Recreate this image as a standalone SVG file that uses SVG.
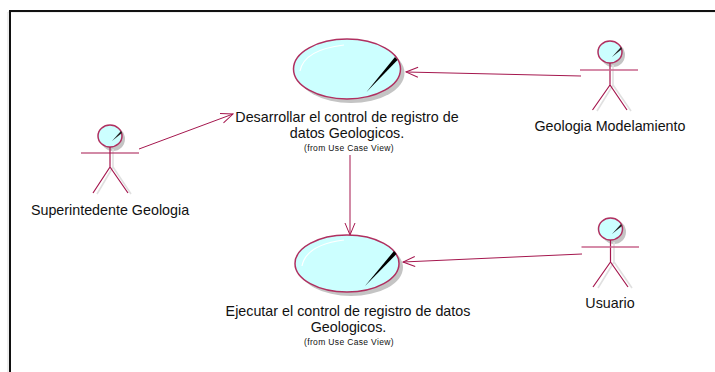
<svg xmlns="http://www.w3.org/2000/svg" width="715" height="372" viewBox="0 0 715 372">
<style>
text{font-family:"Liberation Sans",Arial,sans-serif;fill:#111;text-anchor:middle}
.l{font-size:14.3px}
.s{font-size:8.5px;letter-spacing:.35px}
.c{fill:none;stroke:#a5174e;stroke-width:1}
.uc{fill:#ccffff;stroke:#b03060;stroke-width:1.5}
.a{fill:none;stroke:#a5174e;stroke-width:1.2}
.ar{fill:none;stroke:#c9668c;stroke-width:1.4}
.sh{fill:#c4c4c4;stroke:none}
.shl{fill:none;stroke:#e0e0e0;stroke-width:1.6}
.hl{fill:none;stroke:#fff;stroke-width:1.2}
.head{fill:#ccffff;stroke:#b03060;stroke-width:1.5}
</style>
<defs>
<marker id="arr" markerUnits="userSpaceOnUse" markerWidth="14" markerHeight="12" refX="13" refY="6" orient="auto"><path d="M1 1 L13 6 L1 11" fill="none" stroke="#a5174e" stroke-width="1"/></marker>
</defs>
<rect width="715" height="372" fill="#fff"/>
<path d="M8 372V12H715" fill="none" stroke="#ddd" stroke-width="1"/>
<path d="M10 372V11H715" fill="none" stroke="#111" stroke-width="2"/>
<g id="connectors">
<line class="c" x1="139" y1="149" x2="233" y2="114" marker-end="url(#arr)"/>
<line class="c" x1="581" y1="76" x2="406" y2="72" marker-end="url(#arr)"/>
<line class="c" x1="350" y1="155" x2="350" y2="235" marker-end="url(#arr)"/>
<line class="c" x1="582" y1="254" x2="403" y2="262" marker-end="url(#arr)"/>
</g>
<g id="uc1">
<ellipse class="sh" cx="351" cy="73" rx="53.5" ry="30"/>
<ellipse class="uc" cx="347" cy="69" rx="53.5" ry="30"/>
<path class="hl" d="M300 71C303 56 318 48 344 45"/>
<polygon points="366.500,92 395,57 397.500,60" fill="#000"/>
<text class="l" x="347" y="122">Desarrollar el control de registro de</text>
<text class="l" x="347" y="138">datos Geologicos.</text>
<text class="s" x="349" y="151">(from Use Case View)</text>
</g>
<g id="uc2">
<ellipse class="sh" cx="351" cy="267.500" rx="52" ry="28.500"/>
<ellipse class="uc" cx="347" cy="263.500" rx="52" ry="28.500"/>
<path class="hl" d="M302 266C305 251 320 243 344 240"/>
<polygon points="365,286 394,251 396.500,254" fill="#000"/>
<text class="l" x="348" y="315.500">Ejecutar el control de registro de datos</text>
<text class="l" x="348.500" y="331.500">Geologicos.</text>
<text class="s" x="349" y="344.500">(from Use Case View)</text>
</g>
<g id="actor1">
<circle class="sh" cx="113" cy="139" r="12"/>
<path class="shl" d="M113 149V167M113 167L97 194M113 167L131 194"/>
<ellipse class="head" cx="110" cy="136" rx="12" ry="11"/>
<polygon points="112,141 121,131 122,133" fill="#222"/>
<path class="a" d="M110 147V167M81 153H139M110 167L93 193M110 167L128 193"/>
<text class="l" x="110" y="215">Superintedente Geologia</text>
</g>
<g id="actor2">
<circle class="sh" cx="613" cy="55" r="12"/>
<path class="shl" d="M613 65V85M613 85L597 111M613 85L631 111"/>
<ellipse class="head" cx="610" cy="52" rx="12" ry="11"/>
<polygon points="612,57 621,47 622,49" fill="#222"/>
<path class="a" d="M610 63V85M610 85L592.500 110M610 85L627 110"/>
<path class="ar" d="M580 70H638"/>
<text class="l" x="610" y="131">Geologia Modelamiento</text>
</g>
<g id="actor3">
<circle class="sh" cx="614" cy="232" r="12"/>
<path class="shl" d="M614 242V262M614 262L598 288M614 262L632 288"/>
<ellipse class="head" cx="610.500" cy="229" rx="12" ry="11"/>
<polygon points="612,234 621,224 622,226" fill="#222"/>
<path class="a" d="M610.500 240V262M610.500 262L593 287M610.500 262L628 287"/>
<path class="ar" d="M581.500 247H639"/>
<text class="l" x="610" y="308">Usuario</text>
</g>
</svg>
